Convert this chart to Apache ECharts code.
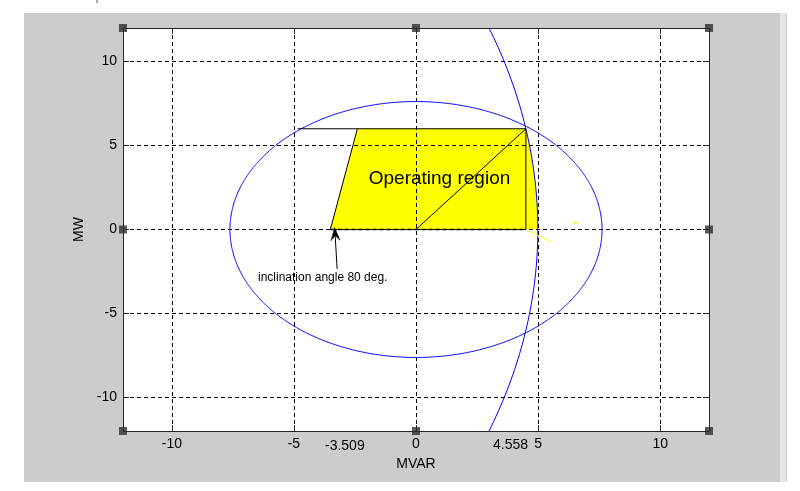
<!DOCTYPE html>
<html>
<head>
<meta charset="utf-8">
<script src="https://cdn.jsdelivr.net/npm/echarts@6/dist/echarts.min.js"></script>
<style>
html,body{margin:0;padding:0;background:#fff;}
#chart{width:800px;height:491px;}
</style>
</head>
<body>
<div id="chart"></div>
<script>
// ---- data ----
const axisMin = -12, axisMax = 12;
const xTickValues = [-10, -5, 0, 5, 10];
const yTickValues = [-10, -5, 0, 5, 10];
const extraXLabels = ['-3.509', '4.558'];
// circles: [centerX, centerY, radius]
const statorCircle = [0, 0, 7.62];
const rotorCircle = [-32.02, 0, 37.01];
// operating region corners (left part), right side follows rotor circle down to y=0
const regionLeftCorners = [[-3.509, 0], [-2.4, 6]];
const regionTopY = 6;
// black lines
const topEdge = [[-4.85, 6], [4.5, 6]];
const slantEdge = [[-3.509, 0], [-2.4, 6]];
const rightEdge = [[4.5, 0], [4.5, 6]];
const diagonal = [[0, 0], [4.5, 6]];
const bottomEdge = [[-3.509, 0], [4.5, 0]];
const yellowStroke = [[4.55, -0.05], [5.55, -0.75]];
const yellowDot = [[6.47, 0.42], [6.58, 0.4]];
const arrowTail = [-3.23, -2.35];
const arrowTip = [-3.33, 0.12];
const handles = [[-12, 12], [0, 12], [12, 12], [-12, 0], [12, 0], [-12, -12], [0, -12], [12, -12]];
const regionText = 'Operating region';
const noteText = 'inclination angle 80 deg.';

const FONT = '"Liberation Sans", Arial, sans-serif';
const chart = echarts.init(document.getElementById('chart'), null, {renderer: 'canvas'});

function circlePoints(api, cx, cy, r, t0, t1, n) {
  const pts = [];
  for (let i = 0; i <= n; i++) {
    const t = t0 + (t1 - t0) * i / n;
    pts.push(api.coord([cx + r * Math.cos(t), cy + r * Math.sin(t)]));
  }
  return pts;
}

function lineSeries(data, color, width, type, z) {
  return {
    type: 'line', data: data, symbol: 'none', silent: true, animation: false,
    lineStyle: {color: color, width: width, type: type || 'solid'}, z: z || 4
  };
}

const axisCommon = {
  min: axisMin, max: axisMax,
  axisLine: {show: true, onZero: false, lineStyle: {color: '#262626', width: 1}},
  axisTick: {show: true, inside: true, length: 6, lineStyle: {color: '#262626', width: 1}},
  splitLine: {show: false},
};

const option = {
  animation: false,
  backgroundColor: 'transparent',
  grid: {left: 123, top: 28, width: 586, height: 403, show: true, backgroundColor: '#ffffff', borderWidth: 0, containLabel: false, outerBoundsMode: 'none'},
  xAxis: [
    Object.assign({}, axisCommon, {
      type: 'value', position: 'bottom', z: 3,
      axisTick: Object.assign({}, axisCommon.axisTick, {customValues: xTickValues}),
      axisLabel: {show: true, customValues: xTickValues, margin: 6, color: '#000', fontSize: 14, fontFamily: FONT},
      splitLine: {show: true, lineStyle: {color: '#000', width: 1, type: [4, 3]}},
      name: 'MVAR', nameLocation: 'middle', nameGap: 26,
      nameTextStyle: {color: '#000', fontSize: 14, fontFamily: FONT}
    }),
    Object.assign({}, axisCommon, {
      type: 'value', position: 'top', z: 3,
      axisTick: Object.assign({}, axisCommon.axisTick, {customValues: xTickValues}),
      axisLabel: {show: false}
    })
  ],
  yAxis: [
    Object.assign({}, axisCommon, {
      type: 'value', position: 'left', z: 3,
      axisTick: Object.assign({}, axisCommon.axisTick, {customValues: yTickValues}),
      axisLabel: {show: true, customValues: yTickValues, margin: 6, color: '#000', fontSize: 14, fontFamily: FONT},
      splitLine: {show: true, lineStyle: {color: '#000', width: 1, type: [4, 3]}},
      name: 'MW', nameLocation: 'middle', nameGap: 31, nameRotate: 90,
      nameTextStyle: {color: '#000', fontSize: 14, fontFamily: FONT}
    }),
    Object.assign({}, axisCommon, {
      type: 'value', position: 'right', z: 3,
      axisTick: Object.assign({}, axisCommon.axisTick, {customValues: yTickValues}),
      axisLabel: {show: false}
    })
  ],
  graphic: [
    {type: 'rect', z: -10, shape: {x: 24, y: 13, width: 756, height: 469}, style: {fill: '#cccccc'}},
    {type: 'rect', z: -10, shape: {x: 780, y: 13, width: 6, height: 469}, style: {fill: '#e6e6e6'}},
    {type: 'rect', z: -10, shape: {x: 786, y: 13, width: 1, height: 469}, style: {fill: '#d4d4d4'}},
    {type: 'line', z: -10, shape: {x1: 97, y1: 0, x2: 97, y2: 3}, style: {stroke: '#555', lineWidth: 1}},
    {type: 'text', z: 10, style: {text: regionText, x: 439.5, y: 179, align: 'center', verticalAlign: 'middle', fill: '#000', font: '19px ' + FONT}},
    {type: 'text', z: 10, style: {text: noteText, x: 258, y: 278, align: 'left', verticalAlign: 'middle', fill: '#000', font: '12px ' + FONT}},
    {type: 'text', z: 10, style: {text: extraXLabels[0], x: 325, y: 446.5, align: 'left', verticalAlign: 'middle', fill: '#000', font: '14px ' + FONT}},
    {type: 'text', z: 10, style: {text: extraXLabels[1], x: 493, y: 445, align: 'left', verticalAlign: 'middle', fill: '#000', font: '14px ' + FONT}}
  ],
  series: [
    { // operating region fill
      type: 'custom', z: 1, silent: true, clip: true, animation: false,
      data: [[rotorCircle[0], rotorCircle[1], rotorCircle[2]]],
      encode: {x: 0, y: 1},
      renderItem: function (params, api) {
        const cx = api.value(0), cy = api.value(1), r = api.value(2);
        const tTop = Math.asin((regionTopY - cy) / r);
        const pts = regionLeftCorners.map(p => api.coord(p));
        circlePoints(api, cx, cy, r, tTop, 0, 40).forEach(p => pts.push(p));
        return {type: 'polygon', shape: {points: pts}, style: {fill: '#ffff00', stroke: 'none'}};
      }
    },
    { // circles
      type: 'custom', z: 4, silent: true, clip: true, animation: false,
      data: [statorCircle, rotorCircle],
      encode: {x: 0, y: 1},
      renderItem: function (params, api) {
        const cx = api.value(0), cy = api.value(1), r = api.value(2);
        const pts = circlePoints(api, cx, cy, r, 0, Math.PI * 2, 720);
        return {type: 'polyline', shape: {points: pts}, style: {stroke: '#0000ff', lineWidth: 1, fill: 'none'}};
      }
    },
    lineSeries(topEdge, '#000', 1),
    lineSeries(slantEdge, '#000', 1),
    lineSeries(rightEdge, '#000', 1),
    lineSeries(diagonal, '#000', 1),
    lineSeries(bottomEdge, '#000', 1.5, [4, 3]),
    lineSeries(yellowStroke, '#ffff00', 1),
    lineSeries(yellowDot, '#ffff00', 2),
    { // annotation arrow
      type: 'custom', z: 6, silent: true, clip: false, animation: false,
      data: [[arrowTail[0], arrowTail[1], arrowTip[0], arrowTip[1]]],
      encode: {x: [0, 2], y: [1, 3]},
      renderItem: function (params, api) {
        const a = api.coord([api.value(0), api.value(1)]);
        const b = api.coord([api.value(2), api.value(3)]);
        const dx = b[0] - a[0], dy = b[1] - a[1];
        const len = Math.sqrt(dx * dx + dy * dy);
        const ux = dx / len, uy = dy / len, px = -uy, py = ux;
        const hl = 13, hw = 4.5, notch = 8;
        const head = [
          b,
          [b[0] - ux * hl + px * hw, b[1] - uy * hl + py * hw],
          [b[0] - ux * notch, b[1] - uy * notch],
          [b[0] - ux * hl - px * hw, b[1] - uy * hl - py * hw]
        ];
        return {type: 'group', children: [
          {type: 'line', shape: {x1: a[0], y1: a[1], x2: b[0] - ux * 6, y2: b[1] - uy * 6}, style: {stroke: '#000', lineWidth: 1}},
          {type: 'polygon', shape: {points: head}, style: {fill: '#000', stroke: '#000', lineWidth: 0.5}}
        ]};
      }
    },
    {
      type: 'scatter', data: handles, symbol: 'rect', symbolSize: 8, clip: false, silent: true,
      itemStyle: {color: '#2e2e2e'}, z: 6, animation: false
    }
  ]
};
chart.setOption(option);
</script>
</body>
</html>
